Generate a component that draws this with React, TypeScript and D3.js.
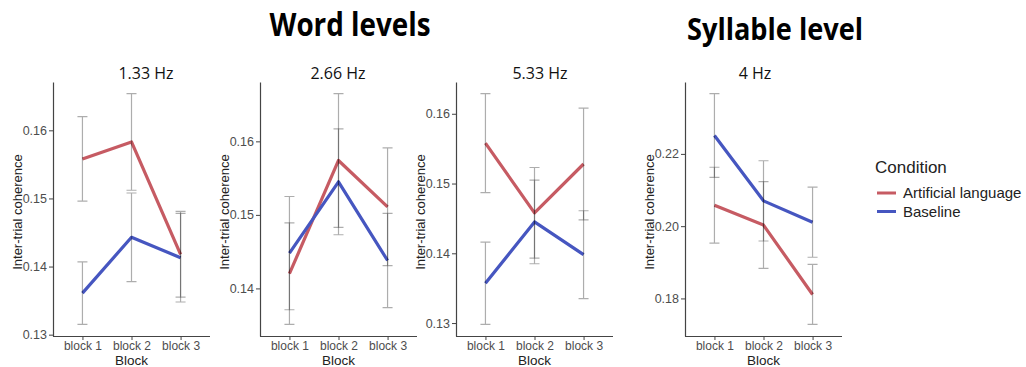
import React, { useEffect, useRef } from 'react';
import * as d3 from 'd3';

// categories
const blocks = ['block 1', 'block 2', 'block 3'];
const conditions = ['Artificial language', 'Baseline'];
const panelTitles = ['1.33 Hz', '2.66 Hz', '5.33 Hz', '4 Hz'];

// mean inter-trial coherence and error bar half-widths, per panel
const hz133Artificial = [0.1558, 0.1583, 0.1418];
const hz133ArtificialErr = [0.0062, 0.0071, 0.0063];
const hz133Baseline = [0.1361, 0.1443, 0.1413];
const hz133BaselineErr = [0.0046, 0.0065, 0.0065];

const hz266Artificial = [0.142, 0.1574, 0.1511];
const hz266ArtificialErr = [0.0069, 0.0091, 0.008];
const hz266Baseline = [0.1448, 0.1545, 0.1438];
const hz266BaselineErr = [0.0077, 0.0072, 0.0064];

const hz533Artificial = [0.1558, 0.1458, 0.1528];
const hz533ArtificialErr = [0.0071, 0.0065, 0.008];
const hz533Baseline = [0.1357, 0.1445, 0.1398];
const hz533BaselineErr = [0.0059, 0.006, 0.0063];

const hz4Artificial = [0.2058, 0.2003, 0.1811];
const hz4ArtificialErr = [0.0105, 0.012, 0.0083];
const hz4Baseline = [0.2251, 0.207, 0.2011];
const hz4BaselineErr = [0.0116, 0.0111, 0.0097];

// y tick labels
const hz133Ticks = [0.13, 0.14, 0.15, 0.16];
const hz266Ticks = [0.14, 0.15, 0.16];
const hz533Ticks = [0.13, 0.14, 0.15, 0.16];
const hz4Ticks = [0.18, 0.2, 0.22];

const panels = [
    { title: panelTitles[0], series: [[hz133Artificial, hz133ArtificialErr], [hz133Baseline, hz133BaselineErr]], ticks: hz133Ticks },
    { title: panelTitles[1], series: [[hz266Artificial, hz266ArtificialErr], [hz266Baseline, hz266BaselineErr]], ticks: hz266Ticks },
    { title: panelTitles[2], series: [[hz533Artificial, hz533ArtificialErr], [hz533Baseline, hz533BaselineErr]], ticks: hz533Ticks },
    { title: panelTitles[3], series: [[hz4Artificial, hz4ArtificialErr], [hz4Baseline, hz4BaselineErr]], ticks: hz4Ticks },
];

const colors = ['#c65b63', '#4656c0'];
const axisLeftX = [53, 260, 456, 685];
const titleX = [146, 338, 540, 755];
const plotTop = 82;
const plotBottom = 336;
const plotWidth = 157;
const font = '"Liberation Sans", Arial, sans-serif';

const App: React.FC = () => {
    const chartRef = useRef<SVGSVGElement | null>(null);

    useEffect(() => {
        if (!chartRef.current) return;
        const svg = d3.select(chartRef.current);
        svg.selectAll('*').remove();
        svg.attr('width', 1026).attr('height', 367);

        svg.append('rect').attr('width', 1026).attr('height', 367).attr('fill', '#fff');

        // big headings
        svg.append('text')
            .attr('x', 350).attr('y', 36)
            .attr('text-anchor', 'middle')
            .attr('textLength', 161).attr('lengthAdjust', 'spacingAndGlyphs')
            .style('font-family', '"Open Sans", sans-serif').style('font-weight', 700).style('font-size', '32px')
            .text('Word levels');
        svg.append('text')
            .attr('x', 775).attr('y', 40)
            .attr('text-anchor', 'middle')
            .attr('textLength', 176).attr('lengthAdjust', 'spacingAndGlyphs')
            .style('font-family', '"Open Sans", sans-serif').style('font-weight', 700).style('font-size', '31px')
            .text('Syllable level');

        panels.forEach((p, i) => {
            const x0 = axisLeftX[i];
            const x = d3.scalePoint<string>().domain(blocks).range([x0, x0 + plotWidth]).padding(0.6);

            const lows = p.series.flatMap(([v, e]) => v.map((d, j) => d - e[j]));
            const highs = p.series.flatMap(([v, e]) => v.map((d, j) => d + e[j]));
            const lo = d3.min(lows) as number;
            const hi = d3.max(highs) as number;
            const pad = (hi - lo) * 0.05;
            const y = d3.scaleLinear().domain([lo - pad, hi + pad]).range([plotBottom, plotTop]);

            const g = svg.append('g');

            // panel title
            g.append('text')
                .attr('x', titleX[i]).attr('y', 79)
                .attr('text-anchor', 'middle')
                .style('font-family', '"Open Sans", sans-serif').style('font-size', '16px').style('fill', '#111')
                .text(p.title);

            // axes
            const yAxis = g.append('g')
                .attr('transform', `translate(${x0},0)`)
                .call(d3.axisLeft(y).tickValues(p.ticks).tickFormat(d3.format('.2f')).tickSize(4).tickPadding(2).tickSizeOuter(0));
            const xAxis = g.append('g')
                .attr('transform', `translate(0,${plotBottom})`)
                .call(d3.axisBottom(x).tickSize(4).tickPadding(1).tickSizeOuter(0));
            [yAxis, xAxis].forEach(a => {
                a.select('.domain').attr('stroke', '#444').attr('stroke-width', 1.2);
                a.selectAll('.tick line').attr('stroke', '#444');
                a.selectAll('.tick text').style('font-family', font).style('font-size', '12.5px').attr('fill', '#4d4d4d');
            });
            xAxis.selectAll('.tick text').style('font-size', '12px');
            xAxis.select('.domain').attr('d', `M${x0},0.5H${x0 + plotWidth}`);

            // axis titles
            g.append('text')
                .attr('x', x0 + plotWidth / 2).attr('y', 365)
                .attr('text-anchor', 'middle')
                .style('font-family', font).style('font-size', '13.5px').style('fill', '#222')
                .text('Block');
            g.append('text')
                .attr('transform', `translate(${x0 - 36},212) rotate(-90)`)
                .attr('text-anchor', 'middle')
                .attr('dominant-baseline', 'central')
                .style('font-family', font).style('font-size', '13px').style('fill', '#222')
                .text('Inter-trial coherence');

            // lines
            const line = d3.line<number>()
                .x((_, j) => x(blocks[j]) as number)
                .y(d => y(d));
            p.series.forEach(([v], k) => {
                g.append('path')
                    .attr('d', line(v))
                    .attr('fill', 'none')
                    .attr('stroke', colors[k])
                    .attr('stroke-width', 3.2)
                    .attr('stroke-linejoin', 'round');
            });

            // error bars
            p.series.forEach(([v, e]) => {
                v.forEach((d, j) => {
                    const cx = x(blocks[j]) as number;
                    const top = y(d + e[j]);
                    const bot = y(d - e[j]);
                    g.append('path')
                        .attr('d', `M${cx},${top}V${bot}M${cx - 5},${top}H${cx + 5}M${cx - 5},${bot}H${cx + 5}`)
                        .attr('fill', 'none')
                        .attr('stroke', '#000')
                        .attr('stroke-opacity', 0.32)
                        .attr('stroke-width', 1.2);
                });
            });
        });

        // legend
        const legend = svg.append('g');
        legend.append('text')
            .attr('x', 875).attr('y', 173)
            .style('font-family', font).style('font-size', '17px').style('fill', '#222')
            .text('Condition');
        conditions.forEach((c, k) => {
            const ly = 193 + k * 18.5;
            legend.append('line')
                .attr('x1', 877).attr('x2', 896).attr('y1', ly).attr('y2', ly)
                .attr('stroke', colors[k]).attr('stroke-width', 3);
            legend.append('text')
                .attr('x', 903).attr('y', ly + 5)
                .style('font-family', font).style('font-size', '15px').style('fill', '#222')
                .text(c);
        });
    }, []);

    return <svg ref={chartRef} style={{ position: 'absolute', left: 0, top: 0 }} />;
};

export default App;
